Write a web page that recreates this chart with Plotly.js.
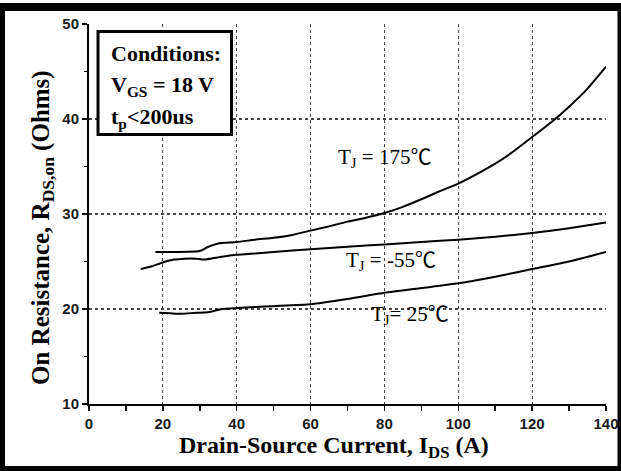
<!DOCTYPE html>
<html>
<head>
<meta charset="utf-8">
<script src="https://cdn.plot.ly/plotly-3.0.1.min.js"></script>
<style>
  html, body { margin: 0; padding: 0; background: #fff; }
  #chart { width: 621px; height: 471px; }
</style>
</head>
<body>
<div id="chart"></div>
<script>
// On-resistance vs drain-source current at three junction temperatures
const currentHot  = [18, 30, 32, 35, 40, 45, 50, 55, 60, 65, 70, 75, 80, 85, 90, 95, 100, 105, 110, 115, 120, 125, 130, 135, 140];
const rdsHot      = [26.0, 26.1, 26.5, 26.9, 27.05, 27.3, 27.5, 27.8, 28.25, 28.7, 29.2, 29.6, 30.1, 30.75, 31.55, 32.4, 33.2, 34.2, 35.3, 36.6, 38.1, 39.6, 41.3, 43.2, 45.5];

const currentCold = [14, 17, 20, 23, 26, 29, 31, 33, 36, 40, 45, 50, 60, 70, 80, 90, 100, 110, 120, 130, 140];
const rdsCold     = [24.2, 24.5, 24.9, 25.2, 25.3, 25.3, 25.2, 25.3, 25.5, 25.7, 25.85, 26.0, 26.3, 26.55, 26.8, 27.05, 27.3, 27.6, 28.0, 28.5, 29.1];

const currentRoom = [19, 22, 25, 29, 32, 36, 40, 45, 50, 60, 70, 80, 90, 100, 110, 120, 130, 140];
const rdsRoom     = [19.6, 19.55, 19.5, 19.6, 19.65, 20.0, 20.1, 20.2, 20.3, 20.5, 21.05, 21.7, 22.2, 22.7, 23.4, 24.2, 25.0, 26.0];

const curveLabels = ['T<sub>J</sub> = 175℃', 'T<sub>J</sub> = -55℃', 'T<sub>J</sub>= 25℃'];
const conditionLines = ['Conditions:', 'V<sub>GS</sub> = 18 V', 't<sub>p</sub>&lt;200us'];
const xTitle = 'Drain-Source Current, I<sub>DS</sub> (A)';
const yTitle = 'On Resistance, R<sub>DS,on</sub> (Ohms)';

const W = 621, H = 471;
const M = { l: 89, r: 15, t: 24, b: 67 };
const PW = W - M.l - M.r, PH = H - M.t - M.b;
// pixel -> paper helpers for the frame, the conditions box and the axis titles
const px = x => (x - M.l) / PW;
const py = y => 1 - (y - M.t) / PH;

const serif = 'Liberation Serif, Times New Roman, Noto Sans CJK SC, serif';
const sans = 'Liberation Sans, Arial, sans-serif';
const black = '#000';

const lineStyle = { color: black, width: 2, shape: 'spline', smoothing: 0.5 };
const traces = [
  { x: currentHot,  y: rdsHot,  mode: 'lines', line: lineStyle, hoverinfo: 'skip' },
  { x: currentCold, y: rdsCold, mode: 'lines', line: lineStyle, hoverinfo: 'skip' },
  { x: currentRoom, y: rdsRoom, mode: 'lines', line: lineStyle, hoverinfo: 'skip' }
];

const labelFont = { family: serif, size: 21, color: black };
const titleFont = { family: serif, size: 24, color: black, weight: 700 };
const annotations = [
  { x: 80.0, y: 35.9, xref: 'x', yref: 'y', text: curveLabels[0], showarrow: false, font: labelFont },
  { x: 81.8, y: 25.1, xref: 'x', yref: 'y', text: curveLabels[1], showarrow: false, font: labelFont },
  { x: 86.8, y: 19.4, xref: 'x', yref: 'y', text: curveLabels[2], showarrow: false, font: labelFont },
  // axis titles, placed by hand
  { x: px(42), y: py(228), xref: 'paper', yref: 'paper', xanchor: 'center', yanchor: 'middle',
    textangle: -90, text: yTitle, showarrow: false,
    font: { family: serif, size: 25, color: black, weight: 700 } },
  { x: px(334), y: py(447), xref: 'paper', yref: 'paper', xanchor: 'center', yanchor: 'middle',
    text: xTitle, showarrow: false, font: titleFont }
];
const condY = [53, 86, 118];
conditionLines.forEach((t, i) => {
  annotations.push({
    x: px(109), y: py(condY[i]), xref: 'paper', yref: 'paper',
    xanchor: 'left', yanchor: 'middle', text: t, showarrow: false,
    font: { family: serif, size: 22, color: black, weight: 700 }
  });
});

const shapes = [
  // conditions box
  { type: 'rect', xref: 'paper', yref: 'paper', x0: px(98), x1: px(231.5), y0: py(31.5), y1: py(134.5),
    line: { color: black, width: 3 }, fillcolor: '#fff', layer: 'above' },
  // outer frame
  { type: 'rect', xref: 'paper', yref: 'paper', x0: px(0), x1: px(621), y0: py(3), y1: py(11),
    line: { width: 0 }, fillcolor: black, layer: 'above' },
  { type: 'rect', xref: 'paper', yref: 'paper', x0: px(0), x1: px(5), y0: py(3), y1: py(471),
    line: { width: 0 }, fillcolor: black, layer: 'above' },
  { type: 'rect', xref: 'paper', yref: 'paper', x0: px(617.5), x1: px(621), y0: py(3), y1: py(471),
    line: { width: 0 }, fillcolor: black, layer: 'above' },
  { type: 'rect', xref: 'paper', yref: 'paper', x0: px(0), x1: px(621), y0: py(466), y1: py(471),
    line: { width: 0 }, fillcolor: black, layer: 'above' }
];

const tickFont = { family: sans, size: 15, color: '#1a1a22', weight: 700 };
const layout = {
  width: W, height: H,
  margin: M,
  paper_bgcolor: '#fff', plot_bgcolor: '#fff',
  showlegend: false,
  xaxis: {
    range: [0, 140], dtick: 20, tick0: 0,
    showline: true, linecolor: black, linewidth: 2,
    ticks: 'outside', ticklen: 5, tickwidth: 1.5, tickcolor: black,
    minor: { dtick: 10, ticks: 'outside', ticklen: 5, tickwidth: 1.5, tickcolor: black, showgrid: false },
    showgrid: true, gridcolor: '#444', griddash: 'dot', gridwidth: 1.2,
    zeroline: false, tickfont: tickFont
  },
  yaxis: {
    range: [10, 50], dtick: 10, tick0: 10,
    showline: true, linecolor: black, linewidth: 2,
    ticks: 'outside', ticklen: 5, tickwidth: 1.5, tickcolor: black,
    minor: { dtick: 5, ticks: 'outside', ticklen: 3, tickwidth: 1, tickcolor: black, showgrid: false },
    showgrid: true, gridcolor: '#444', griddash: 'dot', gridwidth: 1.2,
    zeroline: false, tickfont: tickFont
  },
  annotations: annotations,
  shapes: shapes
};

Plotly.newPlot('chart', traces, layout, { staticPlot: true, displayModeBar: false });
</script>
</body>
</html>
